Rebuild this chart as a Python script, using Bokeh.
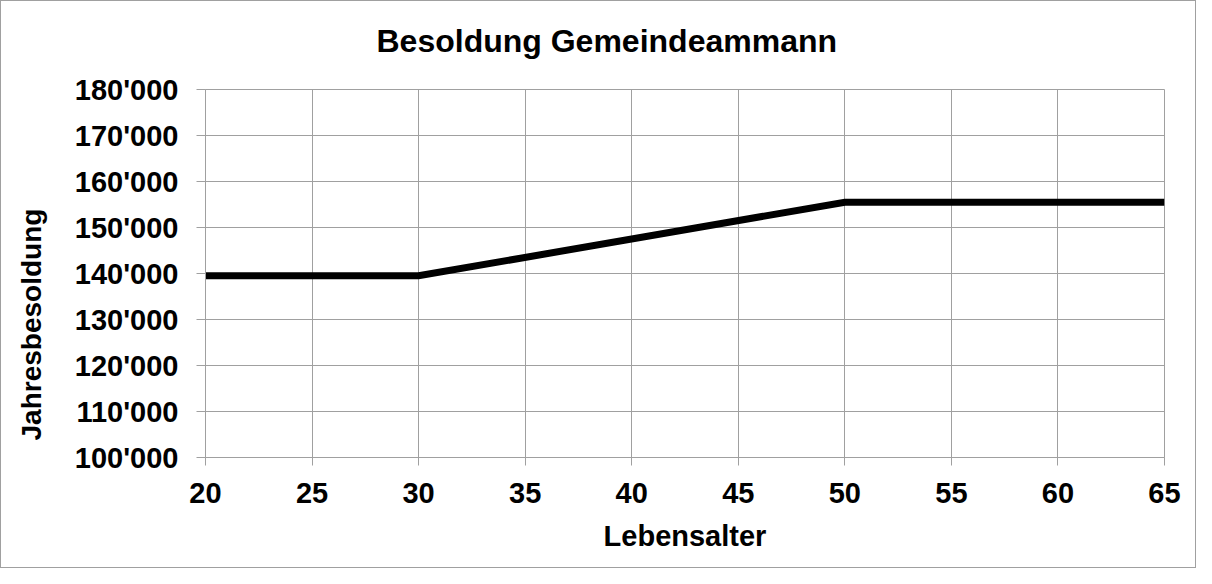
from bokeh.plotting import figure
from bokeh.models import Range1d, FixedTicker, Title
from bokeh.embed import file_html
from bokeh.resources import INLINE

# Data
ages = [20, 30, 50, 65]
salary = [139500, 139500, 155500, 155500]

x_ticks = [20, 25, 30, 35, 40, 45, 50, 55, 60, 65]
y_ticks = [100000, 110000, 120000, 130000, 140000, 150000, 160000, 170000, 180000]
y_tick_labels = ["100'000", "110'000", "120'000", "130'000", "140'000",
                 "150'000", "160'000", "170'000", "180'000"]

title_text = "Besoldung Gemeindeammann"
x_label = "Lebensalter"
y_label = "Jahresbesoldung"

FONT = "Liberation Sans"
GRID = "#a0a0a0"

p = figure(width=1196, height=568, output_backend="svg", toolbar_location=None,
           x_range=Range1d(20, 65), y_range=Range1d(100000, 180000),
           min_border_left=204, min_border_right=33, min_border_top=88,
           min_border_bottom=112, background_fill_color="white",
           border_fill_color="white")
p.styles = {"border": "1px solid #a0a0a0", "box-sizing": "border-box"}

p.outline_line_color = GRID
p.outline_line_width = 1

p.line(ages, salary, line_width=7, line_color="black", line_join="miter")

# built-in title kept minimal
p.title.text = ""
p.title.text_font_size = "1px"
p.title.standoff = 0

# spacer + main title above
p.add_layout(Title(text=" ", text_font_size="1px", standoff=28), "above")
p.add_layout(Title(text=title_text, align="left", offset=171, text_font=FONT,
                   text_font_style="bold", text_font_size="32px",
                   text_color="black", standoff=0), "above")

# Axes
p.xaxis.ticker = FixedTicker(ticks=x_ticks)
p.yaxis.ticker = FixedTicker(ticks=y_ticks)
p.yaxis.major_label_overrides = {t: l for t, l in zip(y_ticks, y_tick_labels)}
p.xaxis.axis_label = x_label

# spacer + y label on the left
p.add_layout(Title(text=" ", text_font_size="1px", standoff=22), "left")
p.add_layout(Title(text=y_label, align="left", offset=17, text_font=FONT,
                   text_font_style="bold", text_font_size="28px",
                   text_color="black", standoff=0), "left")

for ax in (p.xaxis, p.yaxis):
    ax.axis_line_color = GRID
    ax.major_tick_line_color = GRID
    ax.minor_tick_line_color = None
    ax.major_tick_in = 0
    ax.major_label_text_font = FONT
    ax.major_label_text_font_style = "bold"
    ax.major_label_text_font_size = "29px"
    ax.major_label_text_color = "black"
    ax.axis_label_text_font = FONT
    ax.axis_label_text_font_style = "bold"
    ax.axis_label_text_font_size = "29px"
    ax.axis_label_text_color = "black"

p.xaxis.major_tick_out = 8
p.yaxis.major_tick_out = 9
p.xaxis.major_label_standoff = 17
p.yaxis.major_label_standoff = 18
p.xaxis.axis_label_standoff = 14

p.xgrid.ticker = FixedTicker(ticks=x_ticks)
p.ygrid.ticker = FixedTicker(ticks=y_ticks)
p.grid.grid_line_color = GRID
p.grid.grid_line_width = 1

open("out.html", "w").write(file_html(p, INLINE))
